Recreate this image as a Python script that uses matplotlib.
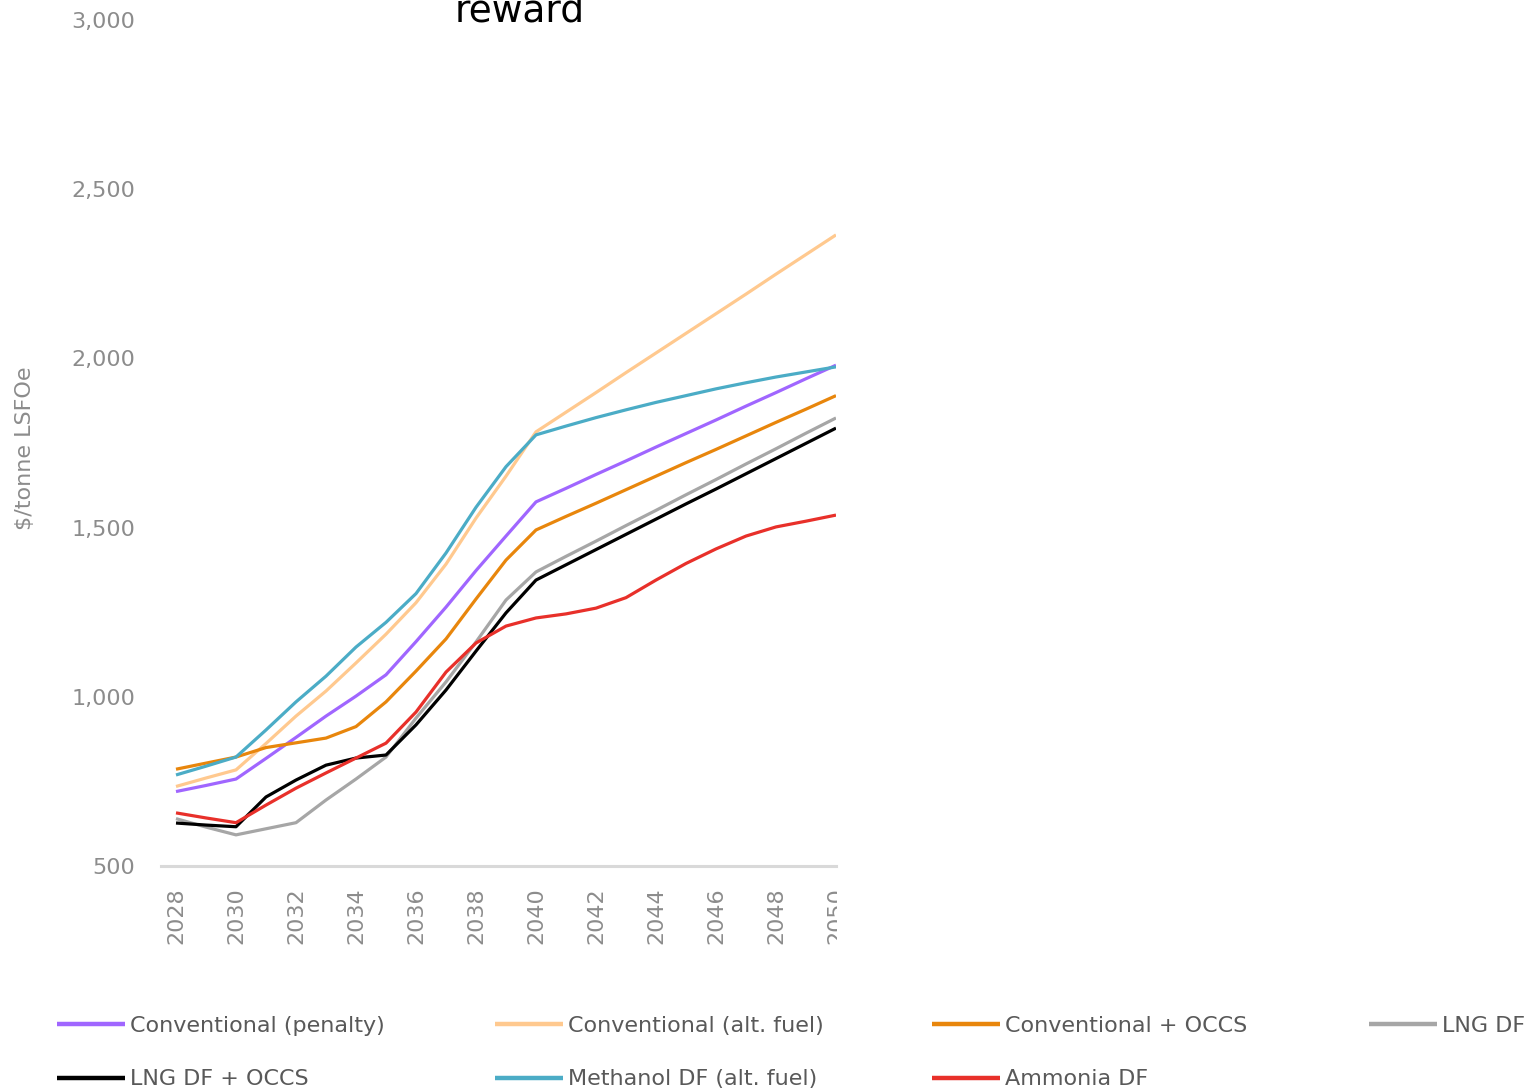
import matplotlib
matplotlib.use("Agg")
import matplotlib.pyplot as plt
from matplotlib.patches import Rectangle

years = list(range(2028, 2051))

conv_penalty = [720, 738, 757, 818, 880, 943, 1002, 1065, 1163, 1265, 1373, 1475, 1576,
                1616, 1657, 1697, 1738, 1778, 1818, 1859, 1899, 1940, 1980]
conv_altfuel = [735, 760, 784, 862, 943, 1017, 1100, 1185, 1278, 1392, 1528, 1652, 1783,
                1841, 1899, 1958, 2016, 2074, 2132, 2190, 2249, 2307, 2365]
conv_occs = [786, 804, 822, 850, 864, 878, 912, 985, 1076, 1171, 1289, 1404, 1493,
             1533, 1572, 1612, 1652, 1692, 1731, 1771, 1811, 1850, 1890]
lng_df = [640, 615, 592, 610, 628, 695, 757, 822, 937, 1044, 1162, 1286, 1369,
          1415, 1460, 1506, 1551, 1597, 1642, 1688, 1733, 1779, 1824]
lng_df_occs = [627, 621, 616, 704, 754, 798, 819, 828, 917, 1020, 1135, 1248, 1345,
               1390, 1435, 1480, 1525, 1570, 1614, 1659, 1704, 1749, 1794]
methanol_df = [769, 795, 822, 902, 985, 1061, 1147, 1220, 1305, 1425, 1560, 1680, 1774,
               1800, 1825, 1848, 1870, 1890, 1910, 1928, 1945, 1960, 1975]
ammonia_df = [657, 642, 628, 680, 730, 775, 819, 863, 955, 1073, 1159, 1209, 1233,
              1245, 1262, 1293, 1345, 1394, 1437, 1475, 1502, 1519, 1537]

series_names = ["Conventional (penalty)", "Conventional (alt. fuel)", "Conventional + OCCS",
                "LNG DF", "LNG DF + OCCS", "Methanol DF (alt. fuel)", "Ammonia DF"]
series_values = [conv_penalty, conv_altfuel, conv_occs, lng_df, lng_df_occs, methanol_df, ammonia_df]
series_colors = ["#A066FF", "#FFC98F", "#E8860C", "#A6A6A6", "#000000", "#4BACC6", "#E8302A"]

y_ticks = [500, 1000, 1500, 2000, 2500, 3000]
x_ticks = list(range(2028, 2051, 2))

W, H = 1538, 1089
fig = plt.figure(figsize=(W / 100, H / 100), dpi=100)
plt.rcParams['font.family'] = ['DejaVu Sans']

left, right, top, bottom = 161, 836, 20, 866
ax = fig.add_axes([left / W, (H - bottom) / H, (right - left) / W, (bottom - top) / H])

handles = []
for name, vals, col in zip(series_names, series_values, series_colors):
    h, = ax.plot(years, vals, color=col, lw=2.3, label=name, solid_capstyle='butt')
    handles.append(h)

ax.set_xlim(2027.5, 2050)
ax.set_ylim(500, 3000)
ax.set_yticks(y_ticks)
ax.set_yticklabels([f"{v:,}" for v in y_ticks])
ax.set_xticks(x_ticks)
ax.set_xticklabels([str(x) for x in x_ticks], rotation=90)
ax.tick_params(axis='y', length=0, pad=18.5, labelsize=16, labelcolor='#8C8C8C')
ax.tick_params(axis='x', length=0, pad=15.5, labelsize=16, labelcolor='#8C8C8C')
for s in ['top', 'right', 'left']:
    ax.spines[s].set_visible(False)
ax.spines['bottom'].set_color('#D9D9D9')
ax.spines['bottom'].set_linewidth(2.2)

# hide right half of clipped last tick label (as in reference crop)
fig.patches.append(Rectangle((837 / W, (H - 965) / H), 60 / W, 95 / H,
                             transform=fig.transFigure, facecolor='white',
                             edgecolor='none', zorder=10))

fig.text(25 / W, 1 - 448 / H, "\\$/tonne LSFOe", rotation=90, ha='center', va='center',
         fontsize=16, color='#8C8C8C')

fig.text(520 / W, 1 - 22 / H, "reward", ha='center', va='baseline', fontsize=27,
         color='black')

# legend: 4 equally spaced columns
col_x = [57, 495, 932, 1369]
columns = [[0, 4], [1, 5], [2, 6], [3]]
for cx, idxs in zip(col_x, columns):
    leg = fig.legend(handles=[handles[i] for i in idxs],
                     labels=[series_names[i] for i in idxs],
                     loc='upper left', bbox_to_anchor=(cx / W, 1 - 1016 / H),
                     frameon=False, fontsize=16, handlelength=3.07, handletextpad=0.22,
                     labelspacing=1.5, borderpad=0, borderaxespad=0, labelcolor='#595959')
    for lh in leg.get_lines():
        lh.set_linewidth(3.2)

fig.savefig("out.png", dpi=100)
